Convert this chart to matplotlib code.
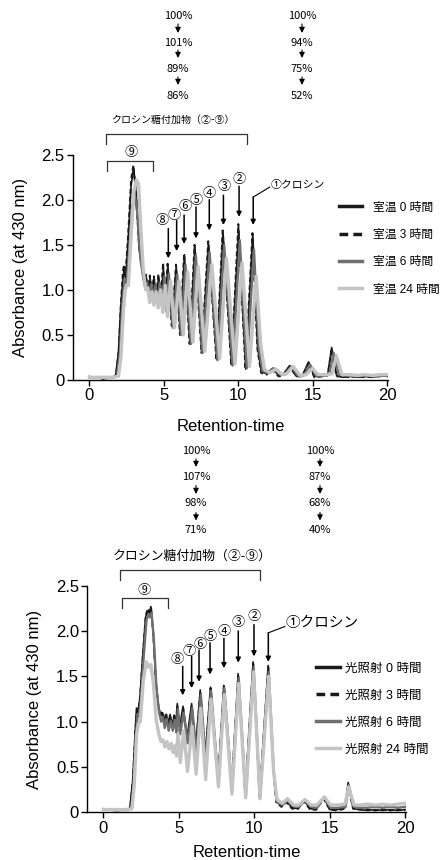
import matplotlib
matplotlib.use('Agg')
import matplotlib.pyplot as plt
from matplotlib.lines import Line2D
from matplotlib.patches import FancyArrowPatch
import numpy as np

plt.rcParams['font.family'] = ['Liberation Sans', 'Noto Sans CJK JP']

# ---- data: (retention time, absorbance) ----
rt_0h = [(0.0, 0.04), (0.3, 0.02), (0.6, 0.03), (0.9, 0.01), (1.2, 0.02), (1.5, 0.02), (1.75, 0.04),
         (1.95, 0.3), (2.1, 0.8), (2.25, 1.12), (2.33, 1.22), (2.43, 1.12), (2.6, 1.55), (2.8, 2.15),
         (2.97, 2.36), (3.15, 2.05), (3.35, 1.45), (3.55, 1.22), (3.7, 1.08), (3.82, 1.14), (3.95, 0.98),
         (4.08, 1.13), (4.2, 0.93), (4.35, 1.12), (4.5, 0.9), (4.65, 1.15), (4.8, 0.86), (4.97, 1.24),
         (5.1, 0.82), (5.27, 1.27), (5.55, 0.6), (5.83, 1.26), (6.1, 0.51), (6.38, 1.39), (6.75, 0.41),
         (7.08, 1.49), (7.55, 0.31), (8.0, 1.51), (8.55, 0.23), (8.97, 1.64), (9.55, 0.17), (10.02, 1.68),
         (10.5, 0.12), (10.97, 1.62), (11.3, 0.35), (11.55, 0.09), (11.9, 0.07), (12.3, 0.13), (12.7, 0.05),
         (13.0, 0.06), (13.45, 0.16), (13.9, 0.04), (14.3, 0.05), (14.72, 0.2), (15.1, 0.04), (15.6, 0.04),
         (16.0, 0.06), (16.27, 0.36), (16.6, 0.05), (17.0, 0.03), (17.5, 0.04), (18.0, 0.03), (18.5, 0.04),
         (19.0, 0.03), (19.5, 0.05), (20.0, 0.04)]
rt_3h = [(0.0, 0.03), (0.4, 0.02), (0.8, 0.03), (1.2, 0.02), (1.6, 0.03), (1.8, 0.05), (1.98, 0.35),
         (2.12, 0.85), (2.25, 1.2), (2.32, 1.28), (2.42, 1.15), (2.6, 1.6), (2.8, 2.22), (2.95, 2.38),
         (3.13, 2.08), (3.33, 1.48), (3.52, 1.25), (3.68, 1.1), (3.8, 1.17), (3.93, 1.0), (4.06, 1.16),
         (4.18, 0.95), (4.33, 1.15), (4.48, 0.92), (4.63, 1.17), (4.78, 0.88), (4.95, 1.3), (5.08, 0.8),
         (5.25, 1.29), (5.53, 0.6), (5.82, 1.28), (6.08, 0.5), (6.36, 1.4), (6.73, 0.4), (7.06, 1.5),
         (7.53, 0.3), (7.98, 1.54), (8.53, 0.22), (8.95, 1.66), (9.53, 0.16), (10.0, 1.73), (10.48, 0.12),
         (10.95, 1.63), (11.28, 0.35), (11.53, 0.08), (11.9, 0.06), (12.28, 0.12), (12.7, 0.04), (13.0, 0.05),
         (13.43, 0.15), (13.9, 0.04), (14.3, 0.04), (14.7, 0.19), (15.1, 0.03), (15.6, 0.04), (16.0, 0.05),
         (16.25, 0.33), (16.6, 0.04), (17.0, 0.04), (17.5, 0.03), (18.0, 0.04), (18.5, 0.03), (19.0, 0.04),
         (19.5, 0.04), (20.0, 0.05)]
rt_6h = [(0.0, 0.03), (0.5, 0.03), (1.0, 0.02), (1.5, 0.03), (1.85, 0.04), (2.05, 0.3), (2.2, 0.8),
         (2.33, 1.05), (2.42, 1.12), (2.5, 1.08), (2.7, 1.5), (2.9, 1.95), (3.05, 2.05), (3.22, 1.85),
         (3.42, 1.35), (3.6, 1.15), (3.75, 1.02), (3.88, 1.08), (4.02, 0.92), (4.15, 1.06), (4.28, 0.88),
         (4.42, 1.05), (4.57, 0.85), (4.72, 1.08), (4.87, 0.82), (5.04, 1.15), (5.17, 0.76), (5.34, 1.18),
         (5.6, 0.58), (5.9, 1.17), (6.16, 0.5), (6.45, 1.28), (6.82, 0.4), (7.15, 1.38), (7.6, 0.3),
         (8.07, 1.42), (8.6, 0.22), (9.05, 1.5), (9.62, 0.16), (10.1, 1.55), (10.57, 0.13), (11.05, 1.45),
         (11.38, 0.35), (11.62, 0.1), (11.95, 0.08), (12.38, 0.13), (12.8, 0.06), (13.1, 0.06), (13.55, 0.15),
         (14.0, 0.05), (14.4, 0.05), (14.82, 0.17), (15.2, 0.05), (15.7, 0.05), (16.1, 0.06), (16.4, 0.3),
         (16.75, 0.06), (17.2, 0.05), (17.8, 0.04), (18.5, 0.05), (19.2, 0.04), (20.0, 0.05)]
rt_24h = [(0.0, 0.03), (0.5, 0.03), (1.0, 0.03), (1.5, 0.03), (1.95, 0.04), (2.12, 0.25), (2.28, 0.75),
          (2.4, 1.0), (2.5, 1.05), (2.62, 1.05), (2.8, 1.6), (3.0, 2.1), (3.15, 2.22), (3.3, 2.18),
          (3.45, 1.7), (3.62, 1.22), (3.78, 1.0), (3.92, 1.02), (4.05, 0.86), (4.2, 0.98), (4.33, 0.83),
          (4.48, 0.98), (4.62, 0.8), (4.78, 1.0), (4.93, 0.75), (5.1, 1.05), (5.25, 0.7), (5.45, 1.1),
          (5.72, 0.58), (6.02, 1.1), (6.3, 0.5), (6.6, 1.2), (6.95, 0.42), (7.3, 1.26), (7.75, 0.32),
          (8.22, 1.28), (8.75, 0.24), (9.2, 1.35), (9.78, 0.18), (10.25, 1.3), (10.75, 0.15), (11.2, 1.15),
          (11.5, 0.4), (11.75, 0.12), (12.1, 0.08), (12.52, 0.12), (12.95, 0.06), (13.25, 0.07),
          (13.68, 0.15), (14.15, 0.05), (14.55, 0.06), (14.98, 0.13), (15.35, 0.06), (15.9, 0.06),
          (16.3, 0.07), (16.58, 0.27), (16.95, 0.06), (17.5, 0.06), (18.0, 0.05), (18.5, 0.06),
          (19.0, 0.05), (19.5, 0.06), (20.0, 0.06)]

li_0h = [(0.0, 0.04), (0.3, 0.03), (0.6, 0.03), (0.9, 0.02), (1.2, 0.03), (1.5, 0.02), (1.75, 0.04),
         (1.95, 0.35), (2.1, 0.85), (2.2, 1.15), (2.3, 1.12), (2.42, 1.25), (2.6, 1.7), (2.8, 2.15),
         (2.95, 2.22), (3.05, 2.2), (3.15, 2.27), (3.3, 2.0), (3.48, 1.45), (3.65, 1.18), (3.78, 1.08),
         (3.9, 1.1), (4.02, 1.0), (4.15, 1.08), (4.28, 0.97), (4.42, 1.08), (4.55, 0.98), (4.7, 1.05),
         (4.8, 0.95), (4.9, 1.2), (5.05, 0.93), (5.28, 1.17), (5.55, 0.82), (5.85, 1.2), (6.12, 0.72),
         (6.42, 1.35), (6.75, 0.62), (7.1, 1.38), (7.6, 0.36), (7.98, 1.4), (8.5, 0.27), (8.93, 1.53),
         (9.4, 0.2), (9.92, 1.66), (10.35, 0.18), (10.92, 1.62), (11.25, 0.5), (11.45, 0.12), (11.8, 0.07),
         (12.15, 0.12), (12.5, 0.05), (12.9, 0.04), (13.3, 0.13), (13.7, 0.04), (14.1, 0.03), (14.6, 0.17),
         (15.0, 0.03), (15.5, 0.03), (16.0, 0.05), (16.22, 0.33), (16.55, 0.04), (17.0, 0.03), (17.5, 0.02),
         (18.0, 0.03), (18.5, 0.02), (19.0, 0.03), (19.5, 0.02), (20.0, 0.03)]
li_3h = [(0.0, 0.03), (0.4, 0.03), (0.8, 0.02), (1.2, 0.03), (1.6, 0.03), (1.8, 0.05), (1.98, 0.4),
         (2.12, 0.9), (2.22, 1.12), (2.32, 1.1), (2.44, 1.28), (2.62, 1.72), (2.82, 2.18), (2.97, 2.25),
         (3.07, 2.2), (3.17, 2.25), (3.32, 1.95), (3.5, 1.4), (3.66, 1.15), (3.79, 1.06), (3.91, 1.12),
         (4.03, 0.98), (4.16, 1.1), (4.29, 0.95), (4.43, 1.06), (4.56, 0.96), (4.7, 1.07), (4.8, 0.93),
         (4.9, 1.18), (5.06, 0.9), (5.29, 1.15), (5.56, 0.8), (5.86, 1.18), (6.13, 0.7), (6.43, 1.33),
         (6.76, 0.6), (7.11, 1.37), (7.6, 0.35), (7.99, 1.39), (8.5, 0.26), (8.94, 1.5), (9.4, 0.19),
         (9.93, 1.64), (10.35, 0.17), (10.93, 1.6), (11.26, 0.48), (11.46, 0.11), (11.8, 0.06),
         (12.15, 0.11), (12.5, 0.04), (12.9, 0.04), (13.3, 0.12), (13.7, 0.03), (14.1, 0.03), (14.6, 0.15),
         (15.0, 0.03), (15.5, 0.02), (16.0, 0.04), (16.22, 0.28), (16.55, 0.04), (17.0, 0.03), (17.5, 0.03),
         (18.0, 0.02), (18.5, 0.03), (19.0, 0.02), (19.5, 0.03), (20.0, 0.02)]
li_6h = [(0.0, 0.03), (0.5, 0.03), (1.0, 0.02), (1.5, 0.03), (1.85, 0.04), (2.03, 0.35), (2.17, 0.85),
         (2.27, 1.08), (2.36, 1.06), (2.48, 1.22), (2.66, 1.68), (2.86, 2.12), (3.0, 2.18), (3.1, 2.15),
         (3.2, 2.2), (3.35, 1.9), (3.53, 1.35), (3.7, 1.1), (3.83, 1.0), (3.95, 1.05), (4.07, 0.93),
         (4.2, 1.03), (4.33, 0.9), (4.47, 1.01), (4.6, 0.9), (4.74, 1.02), (4.84, 0.88), (4.94, 1.14),
         (5.09, 0.86), (5.32, 1.1), (5.59, 0.76), (5.89, 1.15), (6.16, 0.66), (6.46, 1.3), (6.79, 0.56),
         (7.14, 1.34), (7.63, 0.32), (8.02, 1.37), (8.53, 0.24), (8.97, 1.48), (9.44, 0.18), (9.96, 1.6),
         (10.38, 0.16), (10.96, 1.55), (11.29, 0.45), (11.5, 0.12), (11.85, 0.08), (12.2, 0.13),
         (12.55, 0.07), (12.95, 0.06), (13.35, 0.14), (13.75, 0.06), (14.15, 0.05), (14.63, 0.17),
         (15.05, 0.05), (15.55, 0.05), (16.05, 0.06), (16.26, 0.3), (16.6, 0.06), (17.0, 0.05), (17.5, 0.05),
         (18.0, 0.06), (18.5, 0.05), (19.0, 0.06), (19.5, 0.05), (20.0, 0.06)]
li_24h = [(0.0, 0.03), (0.5, 0.03), (1.0, 0.03), (1.5, 0.03), (1.9, 0.04), (2.05, 0.3), (2.2, 0.85),
          (2.32, 0.98), (2.45, 1.0), (2.65, 1.45), (2.85, 1.66), (3.0, 1.6), (3.15, 1.63), (3.32, 1.42),
          (3.5, 1.02), (3.68, 0.86), (3.82, 0.78), (3.95, 0.8), (4.08, 0.72), (4.22, 0.78), (4.35, 0.7),
          (4.5, 0.76), (4.62, 0.66), (4.76, 0.74), (4.85, 0.62), (4.95, 0.86), (5.1, 0.55), (5.32, 0.9),
          (5.58, 0.45), (5.88, 0.95), (6.15, 0.42), (6.45, 1.15), (6.78, 0.36), (7.13, 1.25), (7.63, 0.28),
          (8.01, 1.3), (8.52, 0.2), (8.96, 1.42), (9.43, 0.16), (9.95, 1.55), (10.38, 0.15), (10.95, 1.5),
          (11.28, 0.45), (11.5, 0.14), (11.85, 0.1), (12.2, 0.15), (12.6, 0.08), (12.95, 0.08),
          (13.35, 0.14), (13.75, 0.08), (14.15, 0.08), (14.65, 0.17), (15.05, 0.08), (15.55, 0.08),
          (16.0, 0.09), (16.25, 0.28), (16.6, 0.08), (17.0, 0.08), (17.5, 0.09), (18.0, 0.08), (18.5, 0.09),
          (19.0, 0.08), (19.5, 0.09), (20.0, 0.1)]

rt_labels = ['室温 0 時間', '室温 3 時間', '室温 6 時間', '室温 24 時間']
li_labels = ['光照射 0 時間', '光照射 3 時間', '光照射 6 時間', '光照射 24 時間']
rt_glyco_pct = ['100%', '101%', '89%', '86%']
rt_crocin_pct = ['100%', '94%', '75%', '52%']
li_glyco_pct = ['100%', '107%', '98%', '71%']
li_crocin_pct = ['100%', '87%', '68%', '40%']
peak_names = ['②', '③', '④', '⑤', '⑥', '⑦', '⑧']

BLACK = '#1a1a1a'
DGRAY = '#6f6f6f'
LGRAY = '#c4c4c4'
styles = [dict(color=BLACK, lw=1.2, ls='-'),
          dict(color=BLACK, lw=1.4, ls=(0, (2.5, 1.5))),
          dict(color=DGRAY, lw=1.7, ls='-'),
          dict(color=LGRAY, lw=2.4, ls='-')]

W, H = 442, 860
fig = plt.figure(figsize=(W / 100, H / 100), dpi=100)


def fp(x, y):
    return (x / W, 1 - y / H)


ax1 = fig.add_axes([73 / W, 1 - 380 / H, (388 - 73) / W, (380 - 154.7) / H])
ax2 = fig.add_axes([87.3 / W, 1 - 812.3 / H, (406 - 87.3) / W, (812.3 - 585.7) / H])


def draw_curves(ax, series, labels, fs, lx, ly, hl, htp, lsp, xmin):
    for idx in [3, 2, 0, 1]:
        arr = np.array(series[idx])
        ax.plot(arr[:, 0], arr[:, 1], **styles[idx], zorder=2 + idx)
    handles = [Line2D([], [], color=s['color'], ls=s['ls'], lw=2.5) for s in styles]
    ax.legend(handles, labels, loc='center left', bbox_to_anchor=(lx, ly), frameon=False,
              fontsize=fs, handlelength=hl, handletextpad=htp, labelspacing=lsp,
              borderpad=0, borderaxespad=0)
    ax.set_xlim(xmin, 20.05)
    ax.set_ylim(0, 2.5)
    ax.set_xticks([0, 5, 10, 15, 20])
    ax.set_yticks([0, 0.5, 1.0, 1.5, 2.0, 2.5])
    ax.set_yticklabels(['0', '0.5', '1.0', '1.5', '2.0', '2.5'])
    ax.spines[['top', 'right']].set_visible(False)
    for s in ['left', 'bottom']:
        ax.spines[s].set_linewidth(1.0)
    ax.tick_params(direction='out', length=4, width=1, labelsize=12, pad=2)


draw_curves(ax1, [rt_0h, rt_3h, rt_6h, rt_24h], rt_labels, 8.5, 0.843, 0.584, 2.0, 0.95, 1.3, -1.1)
draw_curves(ax2, [li_0h, li_3h, li_6h, li_24h], li_labels, 9, 0.718, 0.455, 1.9, 0.4, 1.2, -1.06)
ax1.set_ylabel('Absorbance (at 430 nm)', fontsize=12, labelpad=10)
ax2.set_ylabel('Absorbance (at 430 nm)', fontsize=12, labelpad=10)
ax1.set_xlabel('Retention-time', fontsize=12, labelpad=11)
ax2.set_xlabel('Retention-time', fontsize=12, labelpad=7)


def bracket(ax, x0, x1, ytop, ybot):
    ax.plot([x0, x0, x1, x1], [ybot, ytop, ytop, ybot], color='#333333', lw=0.9, clip_on=False)


def peak_marks(ax, xs, tops, tips, lxs, lys, cfs, x1, top1, tip1, lead, ctx, cty, kfs, txa, tya, afs):
    akw = dict(arrowstyle='-|>', color='black', lw=1.1, mutation_scale=7, shrinkA=0, shrinkB=0)
    for name, x, t, b, lx, ly in zip(peak_names, xs, tops, tips, lxs, lys):
        ax.annotate('', xy=(x, b), xytext=(x, t), arrowprops=akw, annotation_clip=False)
        ax.text(lx, ly, name, ha='center', va='center', fontsize=cfs, family='Noto Sans CJK JP')
    ax.annotate('', xy=(x1, tip1), xytext=(x1, top1), arrowprops=akw, annotation_clip=False)
    ax.plot([x1, lead[0]], [top1, lead[1]], color='black', lw=0.8, clip_on=False)
    ax.text(ctx, cty, '①クロシン', ha='left', va='center', fontsize=kfs, family='Noto Sans CJK JP')
    ax.text(txa, tya, 'クロシン糖付加物（②-⑨）', ha='center', va='center', fontsize=afs,
            family='Noto Sans CJK JP')


# top panel annotations
bracket(ax1, 1.12, 10.58, 2.73, 2.62)
bracket(ax1, 1.19, 4.28, 2.43, 2.32)
ax1.text(2.8, 2.52, '⑨', ha='center', va='center', fontsize=9.5, family='Noto Sans CJK JP')
peak_marks(ax1,
           [10.05, 9.0, 8.05, 7.16, 6.36, 5.86, 5.3],
           [2.15, 2.05, 2.0, 1.92, 1.83, 1.77, 1.68],
           [1.81, 1.72, 1.66, 1.57, 1.51, 1.43, 1.35],
           [10.05, 9.04, 8.05, 7.2, 6.42, 5.68, 4.86],
           [2.23, 2.15, 2.07, 1.99, 1.92, 1.83, 1.77], 9.5,
           11.0, 2.03, 1.72, (12.1, 2.14), 12.15, 2.16, 7.8,
           5.62, 2.89, 7.2)

# bottom panel annotations
bracket(ax2, 1.1, 10.4, 2.67, 2.56)
bracket(ax2, 1.23, 4.28, 2.36, 2.25)
ax2.text(2.7, 2.45, '⑨', ha='center', va='center', fontsize=9.5, family='Noto Sans CJK JP')
peak_marks(ax2,
           [9.98, 8.94, 7.99, 7.07, 6.34, 5.85, 5.26],
           [2.07, 2.0, 1.92, 1.87, 1.79, 1.72, 1.61],
           [1.72, 1.65, 1.59, 1.52, 1.44, 1.37, 1.29],
           [9.98, 8.94, 7.99, 7.07, 6.4, 5.66, 4.86],
           [2.16, 2.09, 2.0, 1.94, 1.85, 1.77, 1.69], 9.5,
           10.93, 1.98, 1.66, (12.03, 2.05), 12.1, 2.09, 10.5,
           5.9, 2.82, 9.3)


def pct_column(xc, ys, arrows, vals):
    for v, y in zip(vals, ys):
        fig.text(*fp(xc, y), v, ha='center', va='center', fontsize=8, family='Noto Sans CJK JP')
    for a0, a1 in arrows:
        fig.add_artist(FancyArrowPatch(fp(xc, a0), fp(xc, a1), transform=fig.transFigure,
                                       arrowstyle='-|>', mutation_scale=8, lw=0.8, color='black',
                                       shrinkA=0, shrinkB=0))


pct_column(178, [15.7, 42.7, 69, 95.7], [(24, 33), (50, 58), (77, 85)], rt_glyco_pct)
pct_column(302, [15.7, 42.7, 69, 95.7], [(24, 33), (50, 58), (77, 85)], rt_crocin_pct)
pct_column(196, [450.7, 477.3, 503.3, 530], [(459, 467), (485.5, 494), (512.5, 520.5)], li_glyco_pct)
pct_column(320, [450.7, 477.3, 503.3, 530], [(459, 467), (485.5, 494), (512.5, 520.5)], li_crocin_pct)

fig.savefig('out.png', dpi=100, facecolor='white')
